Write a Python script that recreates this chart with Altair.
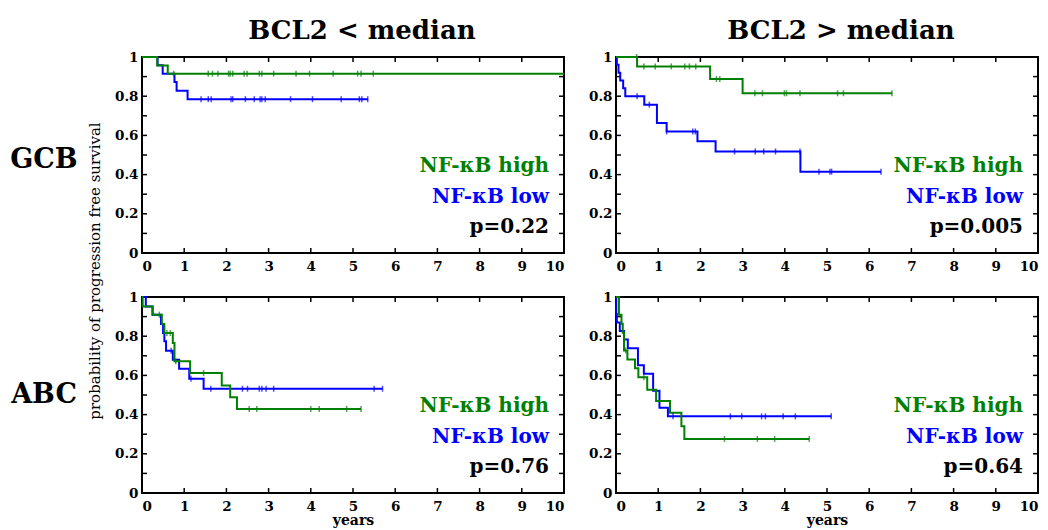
import altair as alt
import pandas as pd

FONT = "DejaVu Serif"
GREEN = "#008000"
BLUE = "#0000ff"

# ---------------- data ----------------
# Panel GCB / BCL2 < median
p1_high_t = [0.36, 0.61]
p1_high_s = [0.957, 0.915]
p1_high_end = 10.0
p1_high_c = [0.75, 1.57, 1.67, 1.80, 2.05, 2.09, 2.15, 2.42, 2.49, 2.78, 2.84,
             3.12, 3.65, 3.97, 4.53, 5.11, 5.19, 5.48]
p1_low_t = [0.37, 0.49, 0.77, 0.82, 1.08]
p1_low_s = [0.958, 0.915, 0.872, 0.828, 0.785]
p1_low_end = 5.35
p1_low_c = [1.40, 1.57, 1.64, 2.11, 2.15, 2.45, 2.66, 2.80, 2.84, 2.92, 3.52,
            4.04, 4.72, 5.15, 5.21, 5.35]

# Panel GCB / BCL2 > median
p2_high_t = [0.5, 2.23, 3.0]
p2_high_s = [0.952, 0.888, 0.815]
p2_high_end = 6.54
p2_high_c = [0.49, 0.66, 0.93, 1.31, 1.63, 1.74, 1.89, 2.38, 2.46, 3.29, 3.47,
             3.99, 4.04, 4.36, 5.25, 5.39, 6.54]
p2_low_t = [0.02, 0.06, 0.1, 0.17, 0.22, 0.67, 0.97, 1.2, 1.93, 2.36, 4.37]
p2_low_s = [0.96, 0.92, 0.88, 0.84, 0.80, 0.757, 0.663, 0.62, 0.57, 0.518, 0.415]
p2_low_end = 6.28
p2_low_c = [0.5, 0.79, 1.2, 1.82, 1.88, 2.81, 3.3, 3.5, 3.78, 4.36, 4.81, 5.07,
            5.11, 6.28]

# Panel ABC / BCL2 < median
p3_high_t = [0.016, 0.25, 0.47, 0.53, 0.73, 0.77, 1.14, 1.89, 2.09, 2.25]
p3_high_s = [0.952, 0.91, 0.862, 0.816, 0.765, 0.672, 0.612, 0.549, 0.488, 0.429]
p3_high_end = 5.19
p3_high_c = [0.41, 0.59, 0.67, 0.8, 1.46, 2.54, 2.72, 4.0, 4.2, 4.85, 5.19]
p3_low_t = [0.09, 0.25, 0.45, 0.5, 0.53, 0.57, 0.73, 0.88, 1.12, 1.46]
p3_low_s = [0.952, 0.91, 0.862, 0.816, 0.774, 0.726, 0.68, 0.634, 0.583, 0.532]
p3_low_end = 5.7
p3_low_c = [0.69, 1.16, 1.63, 2.38, 2.5, 2.78, 2.84, 2.94, 3.12, 5.5, 5.7]

# Panel ABC / BCL2 > median
p4_high_t = [0.07, 0.13, 0.16, 0.19, 0.27, 0.45, 0.53, 0.74, 0.95, 1.28, 1.55, 1.62]
p4_high_s = [0.91, 0.864, 0.818, 0.727, 0.681, 0.636, 0.59, 0.527, 0.47, 0.41,
             0.341, 0.276]
p4_high_end = 4.58
p4_high_c = [0.23, 0.66, 2.57, 3.35, 3.76, 4.58]
p4_low_t = [0.005, 0.02, 0.09, 0.19, 0.28, 0.52, 0.66, 0.88, 1.03, 1.23]
p4_low_s = [0.913, 0.87, 0.826, 0.783, 0.739, 0.652, 0.609, 0.522, 0.435, 0.391]
p4_low_end = 5.1
p4_low_c = [1.35, 2.71, 2.98, 3.45, 3.54, 3.96, 4.25, 5.1]

p_values = ["p=0.22", "p=0.005", "p=0.76", "p=0.64"]
col_titles = ["BCL2 < median", "BCL2 > median"]
row_labels = ["GCB", "ABC"]
legend_labels = ["NF-\u03baB high", "NF-\u03baB low"]
x_ticks = list(range(11))
y_labels = [0, 0.2, 0.4, 0.6, 0.8, 1.0]
y_minor = [round(i * 0.1, 1) for i in range(11)]

W, H = 422, 196


def step_df(times, surv, end, group):
    t = [0.0] + list(times) + [end]
    s = [1.0] + list(surv) + [surv[-1]]
    return pd.DataFrame({"t": t, "s": s, "g": group, "i": range(len(t))})


def censor_df(times, surv, cens, group):
    rows = []
    for c in cens:
        lvl = 1.0
        for tt, ss in zip(times, surv):
            if tt <= c:
                lvl = ss
        rows.append({"t": c, "s": lvl, "g": group})
    return pd.DataFrame(rows)


def xenc(title):
    return alt.X("t:Q", scale=alt.Scale(domain=[0, 10], nice=False, zero=False),
                 axis=alt.Axis(values=x_ticks, format="d", ticks=False, domain=False,
                               grid=False, labelFont=FONT, labelFontSize=13.5,
                               labelFontWeight="bold", labelColor="black",
                               labelPadding=6, title=title, titleFont=FONT,
                               titleFontSize=14, titleFontWeight="bold",
                               titleColor="black", titlePadding=1))


def yenc():
    return alt.Y("s:Q", scale=alt.Scale(domain=[0, 1], nice=False, zero=False),
                 axis=alt.Axis(values=y_labels, format="~g", ticks=False, domain=False,
                               grid=False, labelFont=FONT, labelFontSize=13.5,
                               labelFontWeight="bold", labelColor="black",
                               labelPadding=4, title=None))


color = alt.Color("g:N", scale=alt.Scale(domain=["high", "low"], range=[GREEN, BLUE]),
                  legend=None)


def panel(ht, hs, hend, hc, lt, ls, lend, lc, pval, xtitle, extras):
    lines = pd.concat([step_df(lt, ls, lend, "low"), step_df(ht, hs, hend, "high")])
    cens = pd.concat([censor_df(lt, ls, lc, "low"), censor_df(ht, hs, hc, "high")])
    line_layer = alt.Chart(lines).mark_line(interpolate="step-after", strokeWidth=2).encode(
        x=xenc(xtitle), y=yenc(), color=color, detail="g:N", order="i:Q")
    cens_layer = alt.Chart(cens).mark_tick(orient="vertical", size=6, thickness=1.5).encode(
        x=xenc(xtitle), y=yenc(), color=color)

    bx = pd.DataFrame({"t": x_ticks, "s": [0.0] * len(x_ticks)})
    tx = pd.DataFrame({"t": x_ticks, "s": [1.0] * len(x_ticks)})
    ly = pd.DataFrame({"t": [0.0] * len(y_minor), "s": y_minor})
    ry = pd.DataFrame({"t": [10.0] * len(y_minor), "s": y_minor})
    tick_b = alt.Chart(bx).mark_rule(color="black", strokeWidth=1.5, y2Offset=-5).encode(
        x=xenc(xtitle), y=yenc(), y2="s:Q")
    tick_t = alt.Chart(tx).mark_rule(color="black", strokeWidth=1.5, y2Offset=5).encode(
        x=xenc(xtitle), y=yenc(), y2="s:Q")
    tick_l = alt.Chart(ly).mark_rule(color="black", strokeWidth=1.5, x2Offset=5).encode(
        x=xenc(xtitle), x2="t:Q", y=yenc())
    tick_r = alt.Chart(ry).mark_rule(color="black", strokeWidth=1.5, x2Offset=-5).encode(
        x=xenc(xtitle), x2="t:Q", y=yenc())

    one = pd.DataFrame({"k": [0]})
    txt_kw = dict(font=FONT, fontWeight="bold", fontSize=20, align="right",
                  baseline="alphabetic")
    t1 = alt.Chart(one).mark_text(color=GREEN, text=legend_labels[0], **txt_kw).encode(
        x=alt.value(407), y=alt.value(115))
    t2 = alt.Chart(one).mark_text(color=BLUE, text=legend_labels[1], **txt_kw).encode(
        x=alt.value(407), y=alt.value(145.5))
    t3 = alt.Chart(one).mark_text(color="black", text=pval, **txt_kw).encode(
        x=alt.value(407), y=alt.value(176))

    layers = [tick_b, tick_t, tick_l, tick_r, line_layer, cens_layer, t1, t2, t3] + extras
    return alt.layer(*layers).properties(width=W, height=H)


one = pd.DataFrame({"k": [0]})


def col_title(text, dx):
    return alt.Chart(one).mark_text(text=text, font=FONT, fontWeight="bold", fontSize=26,
                                    align="center", baseline="alphabetic",
                                    color="black").encode(x=alt.value(dx), y=alt.value(-18))


def row_label(text, dy):
    return alt.Chart(one).mark_text(text=text, font=FONT, fontWeight="bold", fontSize=27,
                                    align="center", baseline="alphabetic",
                                    color="black").encode(x=alt.value(-98), y=alt.value(dy))


ytitle = alt.Chart(one).mark_text(text="probability of progression free survival",
                                  font=FONT, fontSize=15, angle=270, align="center",
                                  baseline="middle", color="black").encode(
    x=alt.value(-47), y=alt.value(214))

anchor = alt.Chart(one).mark_rule(strokeOpacity=0, strokeWidth=0).encode(
    x=alt.value(-141), x2=alt.value(-140), y=alt.value(-56))

c1 = panel(p1_high_t, p1_high_s, p1_high_end, p1_high_c,
           p1_low_t, p1_low_s, p1_low_end, p1_low_c, p_values[0], None,
           [col_title(col_titles[0], 220), row_label(row_labels[0], 111), ytitle, anchor])
c2 = panel(p2_high_t, p2_high_s, p2_high_end, p2_high_c,
           p2_low_t, p2_low_s, p2_low_end, p2_low_c, p_values[1], None,
           [col_title(col_titles[1], 225)])
c3 = panel(p3_high_t, p3_high_s, p3_high_end, p3_high_c,
           p3_low_t, p3_low_s, p3_low_end, p3_low_c, p_values[2], "years",
           [row_label(row_labels[1], 106)])
c4 = panel(p4_high_t, p4_high_s, p4_high_end, p4_high_c,
           p4_low_t, p4_low_s, p4_low_end, p4_low_c, p_values[3], "years", [])

chart = alt.concat(c1, c2, c3, c4, columns=2,
                   spacing=alt.RowColnumber(row=44, column=52),
                   bounds="flush").properties(
    padding=0, background="white"
).configure_view(stroke="black", strokeWidth=2)

chart.save("out.html", embed_options={"renderer": "svg", "actions": False})
